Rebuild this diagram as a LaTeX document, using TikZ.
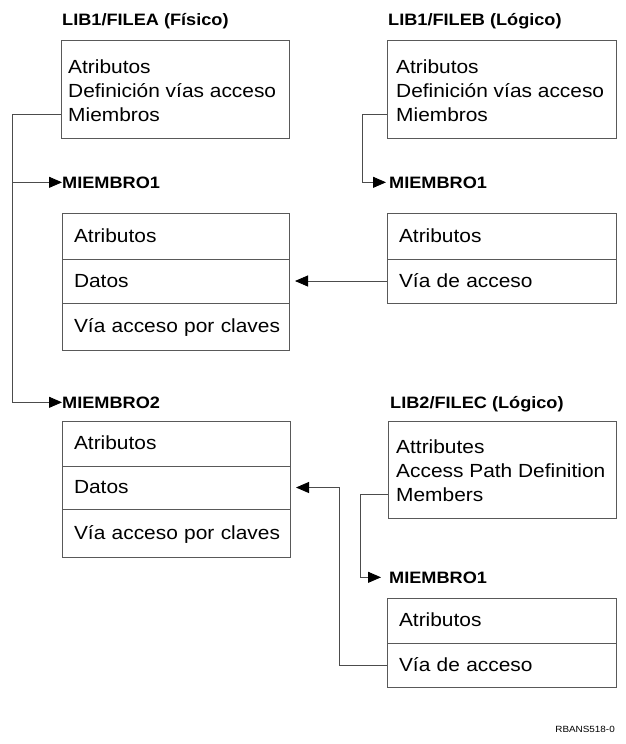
\documentclass[tikz,border=0pt]{standalone}
\usepackage{fontspec}
\setmainfont[FakeStretch=1.1]{Liberation Sans}
\usetikzlibrary{arrows.meta,calc}
\begin{document}
\begin{tikzpicture}[x=1pt,y=-1pt,
  box/.style={draw=black!65, line width=0.9pt, rectangle, inner sep=0pt, outer sep=0pt},
  row/.style={box, anchor=north west, minimum width=#1, text width=#1, inner xsep=0pt, align=left,
              text height=13.5pt, text depth=1.5pt, font=\fontsize{19}{24}\selectfont,
              execute at begin node=\hspace*{12pt}},
  txt/.style={font=\fontsize{19}{24}\selectfont, anchor=base west, inner sep=0pt},
  ttl/.style={font=\fontsize{16.5}{20}\selectfont\bfseries, anchor=base west, inner sep=0pt},
  conn/.style={draw=black!70, line width=0.9pt},
  arr/.style={conn, -{Triangle[length=13pt,width=11pt,color=black]}}]
\useasboundingbox (0,0) rectangle (626,744);

% ---- LIB1/FILEA
\node[ttl] (ta) at (62,25.5) {LIB1/FILEA (Físico)};
\node[box, anchor=north west, minimum width=228pt, minimum height=98pt] (fa) at (61,40) {};
\node[txt] (fa1) at (68,73) {Atributos};
\node[txt] (fa2) at (68,97) {Definición vías acceso};
\node[txt] (fa3) at (68,121) {Miembros};

% ---- LIB1/FILEB
\node[ttl] (tb) at (388,25.5) {LIB1/FILEB (Lógico)};
\node[box, anchor=north west, minimum width=229pt, minimum height=98pt] (fb) at (387,40) {};
\node[txt] (fb1) at (396,73) {Atributos};
\node[txt] (fb2) at (396,97) {Definición vías acceso};
\node[txt] (fb3) at (396,121) {Miembros};

% ---- MIEMBRO1 of FILEA
\node[ttl] (m1t) at (62,188) {MIEMBRO1};
\node[row=227pt, minimum height=46pt] (m1a) at (62,213) {Atributos};
\node[row=227pt, minimum height=44pt] (m1b) at (62,259) {Datos};
\node[row=227pt, minimum height=47pt] (m1c) at (62,303) {Vía acceso por claves};

% ---- MIEMBRO1 of FILEB
\node[ttl] (mb1t) at (389,188) {MIEMBRO1};
\node[row=229pt, minimum height=46pt] (b1a) at (387,213) {Atributos};
\node[row=229pt, minimum height=44pt] (b1b) at (387,259) {Vía de acceso};

% ---- MIEMBRO2 of FILEA
\node[ttl] (m2t) at (62,408) {MIEMBRO2};
\node[row=228pt, minimum height=45pt] (m2a) at (62,421) {Atributos};
\node[row=228pt, minimum height=43pt] (m2b) at (62,466) {Datos};
\node[row=228pt, minimum height=48pt] (m2c) at (62,509) {Vía acceso por claves};

% ---- LIB2/FILEC
\node[ttl] (tc) at (390,408) {LIB2/FILEC (Lógico)};
\node[box, anchor=north west, minimum width=228pt, minimum height=97pt] (fc) at (388,421) {};
\node[txt] (fc1) at (396,453) {Attributes};
\node[txt] (fc2) at (396,477) {Access Path Definition};
\node[txt] (fc3) at (396,501) {Members};

% ---- MIEMBRO1 of FILEC
\node[ttl] (mc1t) at (389,583) {MIEMBRO1};
\node[row=229pt, minimum height=45pt] (c1a) at (387,598) {Atributos};
\node[row=229pt, minimum height=44pt] (c1b) at (387,643) {Vía de acceso};

% ---- footer
\node[font=\fontsize{9}{11}\selectfont, anchor=base east, inner sep=0pt] (ft) at (615,732) {RBANS518-0};

% ---- connectors
\coordinate (ja) at (12,0);
\coordinate (jb) at (362,0);
\coordinate (jc) at (360,0);
\coordinate (jd) at (339,0);

\draw[arr] (fa.west |- fa3) -| (ja |- m2t) -- (m2t.west);
\draw[arr] (ja |- m1t) -- (m1t.west);

\draw[arr, shorten >=3pt] (fb.west |- fb3) -| (jb |- mb1t) -- (mb1t.west);
\draw[arr, shorten >=6pt] (b1b.west) -- (m1b.east);

\draw[arr, shorten >=8pt] (fc.west |- fc3) -| (jc |- mc1t) -- (mc1t.west);
\draw[arr, shorten >=6pt] (c1b.west) -| (jd |- m2b) -- (m2b.east);
\end{tikzpicture}
\end{document}
